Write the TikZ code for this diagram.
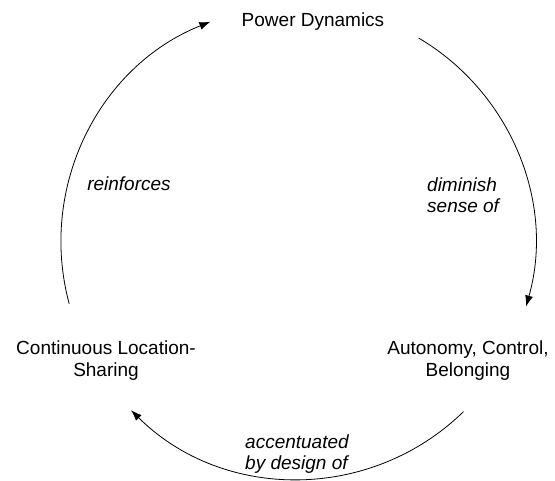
\documentclass[tikz,border=0pt]{standalone}
\usepackage{fontspec}
\setmainfont{Liberation Sans}
\usepackage{tikz}
\usetikzlibrary{arrows.meta,positioning,calc}
\tikzset{
  stage/.style = {inner sep=0pt, align=center, font=\fontsize{19}{22}\selectfont},
  effect/.style = {inner sep=0pt, align=left, font=\fontsize{19}{21}\selectfont\itshape},
  cycle/.style = {line width=0.8pt, -{Latex[length=11pt,width=8pt]}},
}

\begin{document}
\begin{tikzpicture}[x=1pt,y=1pt]
\useasboundingbox (0,0) rectangle (555,481);
\coordinate (ctr) at (298,239);

\node [stage, anchor=base] (power) at (313,454) {Power Dynamics};
\node [stage, anchor=base] (auto) at (468,104) {Autonomy, Control,\\Belonging};
\node [stage, anchor=base] (share) at (106,104) {Continuous Location-\\Sharing};

\node [effect, anchor=base west] (dimin) at (427,268) {diminish\\sense of};
\node [effect, anchor=base west] (accent) at (245,11) {accentuated\\by design of};
\node [effect, anchor=base] (reinf) at (129,290) {reinforces};

\coordinate (pA) at ($(ctr)+(59.4:237)$);
\coordinate (pB) at ($(ctr)+(-45.7:237)$);
\coordinate (pC) at ($(ctr)+(195.1:237)$);

\draw[cycle] (pA) arc[start angle=59.4, end angle=-15.8, radius=237];
\draw[cycle] (pB) arc[start angle=-45.7, end angle=-134.8, radius=237];
\draw[cycle] (pC) arc[start angle=195.1, end angle=111.7, radius=237];
\end{tikzpicture}
\end{document}
